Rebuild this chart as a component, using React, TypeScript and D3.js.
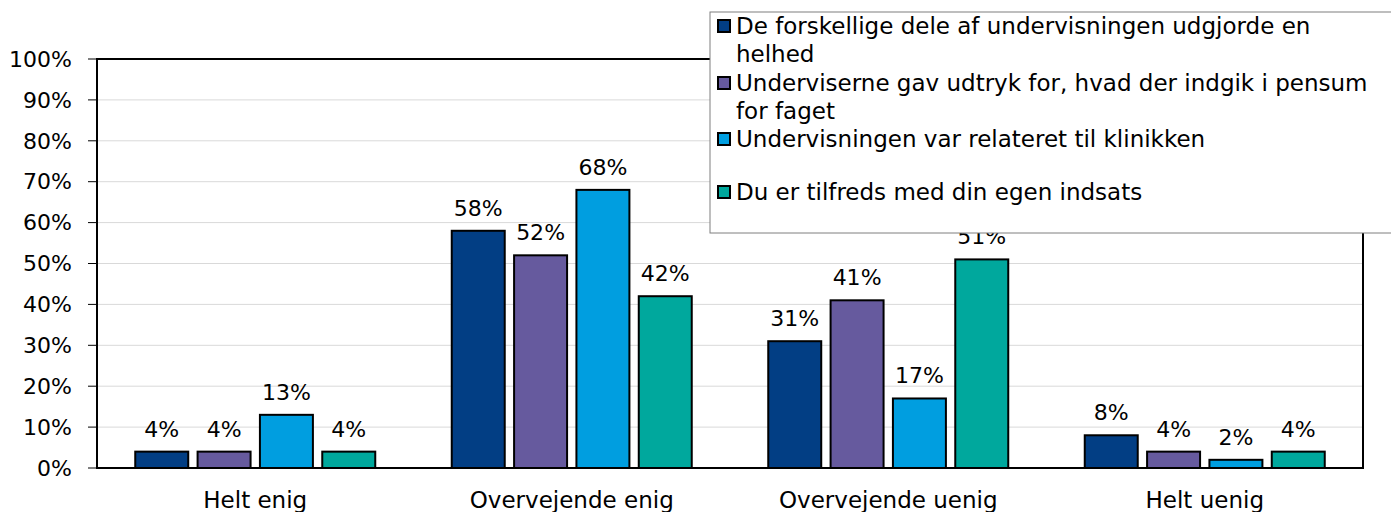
import React from "react";
import * as d3 from "d3";

const categories = ["Helt enig", "Overvejende enig", "Overvejende uenig", "Helt uenig"];
const seriesNames = [
  "De forskellige dele af undervisningen udgjorde en helhed",
  "Underviserne gav udtryk for, hvad der indgik i pensum for faget",
  "Undervisningen var relateret til klinikken",
  "Du er tilfreds med din egen indsats",
];
const seriesA = [4, 58, 31, 8];
const seriesB = [4, 52, 41, 4];
const seriesC = [13, 68, 17, 2];
const seriesD = [4, 42, 51, 4];
const colors = ["#023E84", "#665A9E", "#009EE0", "#00A89D"];
const yTicks = [0, 10, 20, 30, 40, 50, 60, 70, 80, 90, 100];
const legendLines = [
  ["De forskellige dele af undervisningen udgjorde en", "helhed"],
  ["Underviserne gav udtryk for, hvad der indgik i pensum", "for faget"],
  ["Undervisningen var relateret til klinikken"],
  ["Du er tilfreds med din egen indsats"],
];

const W = 1391, H = 512;
const M = { left: 97, right: 1363, top: 59, bottom: 468 };
const FONT = "'DejaVu Sans', sans-serif";

export default function App() {
  const series = [seriesA, seriesB, seriesC, seriesD];
  const groupW = 240;
  const x0 = d3.scaleBand().domain(categories).range([M.left, M.right]).paddingInner(0).paddingOuter(0);
  const x1 = d3.scaleBand().domain(d3.range(4).map(String)).range([0, groupW]).paddingInner(0.15).paddingOuter(0);
  const y = d3.scaleLinear().domain([0, 100]).range([M.bottom, M.top]);
  const legendY = [26, 83, 139, 192];
  return (
    <svg width={W} height={H} style={{ position: "absolute", left: 0, top: 0 }} fontFamily={FONT}>
      <rect width={W} height={H} fill="#fff" />
      {yTicks.map((t) => (
        <g key={t}>
          {t > 0 && t < 100 && (
            <line x1={M.left} x2={M.right} y1={y(t)} y2={y(t)} stroke="#d9d9d9" strokeWidth={1} />
          )}
          <line x1={M.left - 9} x2={M.left} y1={y(t)} y2={y(t)} stroke="#000" strokeWidth={1} />
          <text x={M.left - 25} y={y(t)} dy="0.35em" textAnchor="end" fontSize={22} fill="#000">{t}%</text>
        </g>
      ))}
      {categories.map((c, ci) => {
        const gx = (x0(c) as number) + (x0.bandwidth() - groupW) / 2;
        return (
          <g key={c}>
            {series.map((s, si) => {
              const bx = gx + (x1(String(si)) as number);
              return (
                <g key={si}>
                  <rect x={bx} y={y(s[ci])} width={x1.bandwidth()} height={M.bottom - y(s[ci])}
                    fill={colors[si]} stroke="#000" strokeWidth={2} />
                  <text x={bx + x1.bandwidth() / 2} y={y(s[ci]) - 15} textAnchor="middle" fontSize={22} fill="#000">{s[ci]}%</text>
                </g>
              );
            })}
            <text x={(x0(c) as number) + x0.bandwidth() / 2} y={508} textAnchor="middle" fontSize={23} fill="#000">{c}</text>
          </g>
        );
      })}
      <rect x={M.left} y={M.top} width={M.right - M.left} height={M.bottom - M.top} fill="none" stroke="#000" strokeWidth={2} />
      <rect x={710} y={12} width={700} height={221} fill="#fff" stroke="#7f7f7f" strokeWidth={1} />
      {legendLines.map((lines, i) => (
        <g key={i}>
          <rect x={718} y={legendY[i] - 6} width={12} height={12} fill={colors[i]} stroke="#000" strokeWidth={2} />
          {lines.map((l, li) => (
            <text key={li} x={736} y={legendY[i] + li * 28} dy="0.35em" fontSize={23} fill="#000">{l}</text>
          ))}
        </g>
      ))}
    </svg>
  );
}
